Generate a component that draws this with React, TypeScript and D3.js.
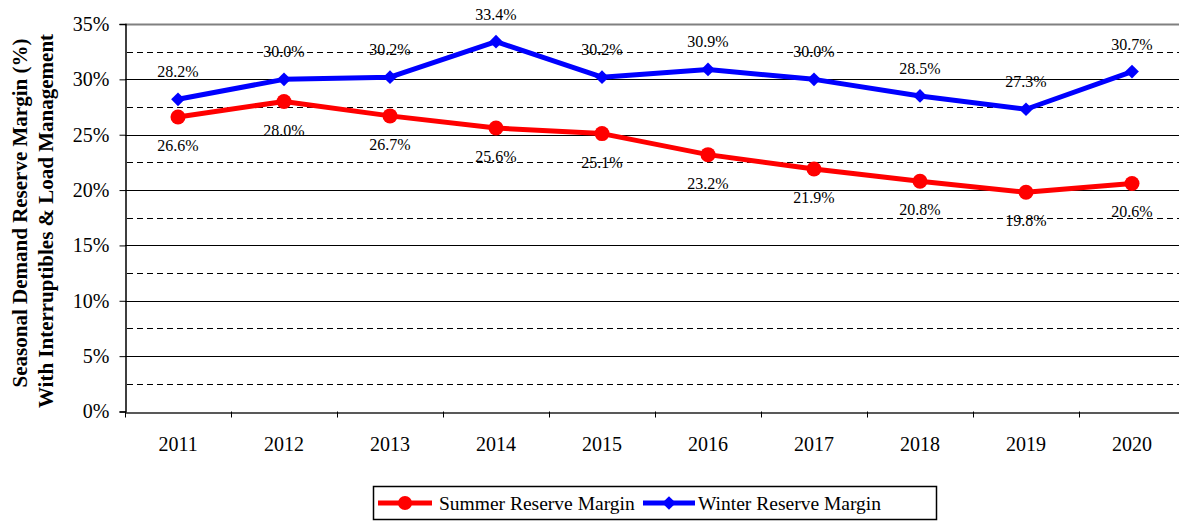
import React, { useEffect, useRef } from "react";
import * as d3 from "d3";

const years = ["2011", "2012", "2013", "2014", "2015", "2016", "2017", "2018", "2019", "2020"];
const summer = [26.6, 28.0, 26.7, 25.6, 25.1, 23.2, 21.9, 20.8, 19.8, 20.6];
const winter = [28.2, 30.0, 30.2, 33.4, 30.2, 30.9, 30.0, 28.5, 27.3, 30.7];
const majorTicks = [0, 5, 10, 15, 20, 25, 30, 35];
const minorTicks = [2.5, 7.5, 12.5, 17.5, 22.5, 27.5, 32.5];

const W = 1179;
const H = 521;
const FONT = "'Liberation Serif', 'Times New Roman', serif";

export default function App() {
  const ref = useRef<SVGSVGElement>(null);

  useEffect(() => {
    const svg = d3.select(ref.current);
    svg.selectAll("*").remove();

    const left = 125, right = 1185, top = 24, bottom = 411.5;

    const x = d3.scaleBand().domain(years).range([left, right]);
    const y = d3.scaleLinear().domain([0, 35]).range([bottom, top]);
    const cx = (d: string) => (x(d) as number) + x.bandwidth() / 2;

    // gridlines
    svg.append("g")
      .selectAll("line")
      .data(minorTicks)
      .join("line")
      .attr("x1", left + 2)
      .attr("x2", right)
      .attr("y1", (d) => Math.round(y(d)) + 0.5)
      .attr("y2", (d) => Math.round(y(d)) + 0.5)
      .attr("stroke", "#000")
      .attr("stroke-dasharray", "6,4");

    svg.append("g")
      .selectAll("line")
      .data(majorTicks.filter((d) => d > 0))
      .join("line")
      .attr("x1", left)
      .attr("x2", right)
      .attr("y1", (d) => Math.round(y(d)) + 0.5)
      .attr("y2", (d) => Math.round(y(d)) + 0.5)
      .attr("stroke", (d) => (d === 35 ? "#808080" : "#000"))
      .attr("stroke-width", (d) => (d === 35 ? 2 : 1));

    // y axis
    const yAxis = svg.append("g")
      .attr("transform", `translate(${left + 0.5},0)`)
      .call(d3.axisLeft(y).tickValues(majorTicks).tickFormat((d) => `${d}%`).tickSize(6).tickPadding(10));
    yAxis.select(".domain").attr("stroke", "#000").attr("stroke-width", 1.5);
    yAxis.selectAll("text").attr("font-family", FONT).attr("font-size", 20).attr("fill", "#000");

    // x axis
    const xAxis = svg.append("g")
      .attr("transform", `translate(0,${Math.round(bottom) + 0.5})`)
      .call(d3.axisBottom(x).tickSize(0).tickPadding(24));
    xAxis.select(".domain").attr("stroke", "#222").attr("stroke-width", 1.5);
    xAxis.selectAll("text").attr("font-family", FONT).attr("font-size", 20).attr("fill", "#000");
    svg.append("g")
      .selectAll("line")
      .data(years)
      .join("line")
      .attr("x1", (d) => Math.round(x(d) as number) + 0.5)
      .attr("x2", (d) => Math.round(x(d) as number) + 0.5)
      .attr("y1", bottom)
      .attr("y2", bottom + 6)
      .attr("stroke", "#000");

    // y title (two lines)
    svg.append("text")
      .attr("transform", `translate(27,213) rotate(-90)`)
      .attr("text-anchor", "middle")
      .attr("font-family", FONT)
      .attr("font-weight", "bold")
      .attr("font-size", 21)
      .text("Seasonal Demand Reserve Margin (%)");
    svg.append("text")
      .attr("transform", `translate(53,221) rotate(-90)`)
      .attr("text-anchor", "middle")
      .attr("font-family", FONT)
      .attr("font-weight", "bold")
      .attr("font-size", 21)
      .text("With Interruptibles & Load Management");

    const line = d3.line<number>().x((_, i) => cx(years[i])).y((d) => y(d));

    // summer
    svg.append("path").datum(summer).attr("d", line).attr("fill", "none")
      .attr("stroke", "#ff0000").attr("stroke-width", 5).attr("stroke-linejoin", "round");
    svg.append("g").selectAll("circle").data(summer).join("circle")
      .attr("cx", (_, i) => cx(years[i])).attr("cy", (d) => y(d)).attr("r", 7.5).attr("fill", "#ff0000");

    // winter
    svg.append("path").datum(winter).attr("d", line).attr("fill", "none")
      .attr("stroke", "#0000ff").attr("stroke-width", 5).attr("stroke-linejoin", "round");
    const diamond = d3.symbol().type(d3.symbolDiamond2).size(120);
    svg.append("g").selectAll("path").data(winter).join("path")
      .attr("d", diamond)
      .attr("transform", (d, i) => `translate(${cx(years[i])},${y(d)})`)
      .attr("fill", "#0000ff");

    // labels
    svg.append("g").selectAll("text").data(winter).join("text")
      .attr("x", (_, i) => cx(years[i])).attr("y", (d) => y(d) - 22)
      .attr("text-anchor", "middle").attr("font-family", FONT).attr("font-size", 16)
      .text((d) => `${d.toFixed(1)}%`);
    svg.append("g").selectAll("text").data(summer).join("text")
      .attr("x", (_, i) => cx(years[i])).attr("y", (d) => y(d) + 34)
      .attr("text-anchor", "middle").attr("font-family", FONT).attr("font-size", 16)
      .text((d) => `${d.toFixed(1)}%`);

    // legend
    const lg = svg.append("g");
    lg.append("rect").attr("x", 373.5).attr("y", 486.5).attr("width", 563).attr("height", 33)
      .attr("fill", "#fff").attr("stroke", "#000").attr("stroke-width", 1.5);
    lg.append("line").attr("x1", 378).attr("x2", 432).attr("y1", 503).attr("y2", 503)
      .attr("stroke", "#ff0000").attr("stroke-width", 5);
    lg.append("circle").attr("cx", 405).attr("cy", 503).attr("r", 7).attr("fill", "#ff0000");
    lg.append("text").attr("x", 439).attr("y", 510).attr("font-family", FONT).attr("font-size", 19.5)
      .text("Summer Reserve Margin");
    lg.append("line").attr("x1", 643).attr("x2", 695).attr("y1", 503).attr("y2", 503)
      .attr("stroke", "#0000ff").attr("stroke-width", 5);
    lg.append("path").attr("d", diamond).attr("transform", "translate(669,503)").attr("fill", "#0000ff");
    lg.append("text").attr("x", 698).attr("y", 510).attr("font-family", FONT).attr("font-size", 19.5)
      .text("Winter Reserve Margin");
  }, []);

  return (
    <svg ref={ref} width={W} height={H} style={{ position: "absolute", left: 0, top: 0, background: "#fff" }} />
  );
}
